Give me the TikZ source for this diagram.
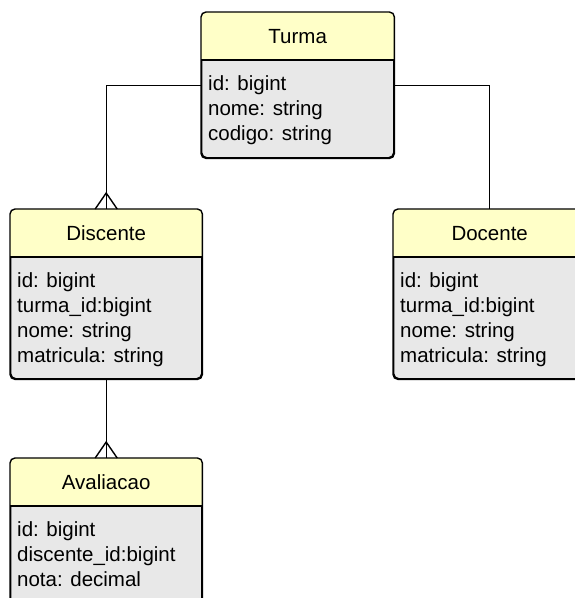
\documentclass[tikz,border=0pt]{standalone}
\usepackage{fontspec}
\setmainfont{Liberation Sans}
\usetikzlibrary{calc}
\definecolor{hdrcol}{HTML}{FFFFC8}
\definecolor{bodycol}{HTML}{E8E8E8}
\tikzset{
  ent/.style={draw=black, line width=1.4pt, rounded corners=5pt, fill=bodycol, inner sep=0pt, anchor=north west},
  txt/.style={inner sep=0pt, font=\fontsize{20.5}{25}\selectfont},
  conn/.style={draw=black, line width=1.4pt},
}
\newcommand{\entbox}[7]{%
  % #1 name, #2 x, #3 y, #4 width, #5 height, #6 title, #7 attribute list
  \node[ent, minimum width=#4, minimum height=#5] (#1) at (#2,#3) {};
  \begin{scope}
    \clip[rounded corners=5pt] (#1.north west) rectangle (#1.south east);
    \fill[hdrcol] (#1.north west) rectangle ($(#1.north east)+(0,48)$);
  \end{scope}
  \draw[line width=1.4pt, rounded corners=5pt] (#1.north west) rectangle (#1.south east);
  \draw[line width=1.4pt] ($(#1.north west)+(0,48)$) -- ($(#1.north east)+(0,48)$);
  \node[txt, anchor=base] (#1-t) at ($(#1.north)+(0,31.5)$) {#6};
  \foreach \s [count=\i] in {#7} {
    \node[txt, anchor=base west] (#1-a\i) at ($(#1.north west)+(7,78.7+25*\i-25)$) {\s};
  }
}
\begin{document}
\begin{tikzpicture}[x=1pt,y=-1pt]
\useasboundingbox (0,0) rectangle (575,598);
\clip (0,0) rectangle (575,598);
\entbox{turma}{201}{12}{192}{145}{Turma}{id: bigint,nome: string,codigo: string}
\entbox{discente}{10}{209}{191}{169}{Discente}{id: bigint,turma\_id:bigint,nome: string,matricula: string}
\entbox{docente}{393}{209}{192}{169}{Docente}{id: bigint,turma\_id:bigint,nome: string,matricula: string}
\entbox{avaliacao}{10}{458}{191}{150}{Avaliacao}{id: bigint,discente\_id:bigint,nota: decimal}
% connectors
\draw[conn] (turma.west) -| (discente.north);
\draw[conn] ($(discente.north)+(-11,0)$) -- ($(discente.north)+(0,-16)$) -- ($(discente.north)+(11,0)$);
\draw[conn] (turma.east) -| (docente.north);
\draw[conn] (discente.south) -- (avaliacao.north);
\draw[conn] ($(avaliacao.north)+(-11,0)$) -- ($(avaliacao.north)+(0,-16)$) -- ($(avaliacao.north)+(11,0)$);
\end{tikzpicture}
\end{document}
